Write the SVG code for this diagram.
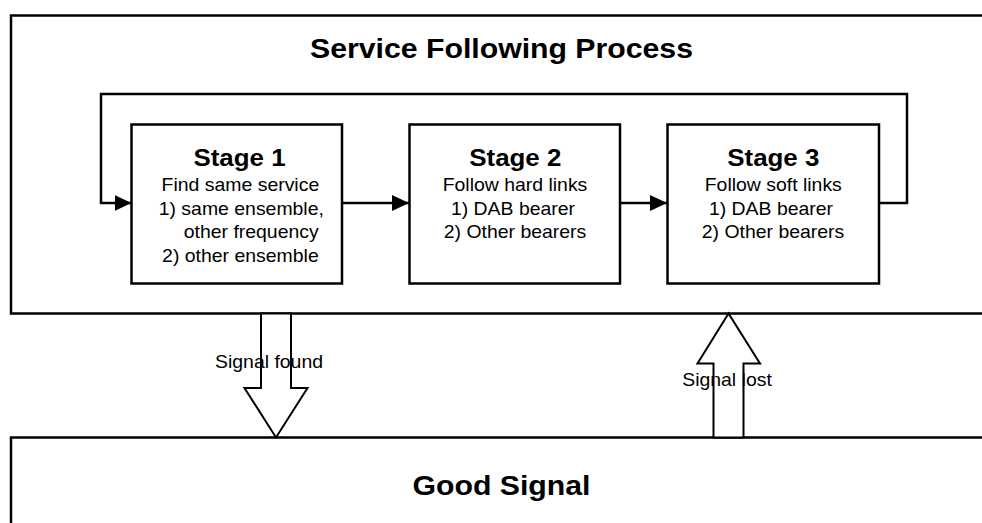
<svg xmlns="http://www.w3.org/2000/svg" width="982" height="523" viewBox="0 0 982 523">
<defs>
<style>
.box{fill:#fff;stroke:#000;stroke-width:2.5}
.arr{fill:#fff;stroke:#000;stroke-width:2}
.ln{fill:none;stroke:#000;stroke-width:2.5}
.t{font-family:"Liberation Sans",Arial,Helvetica,sans-serif;text-anchor:middle;fill:#000}
.h{font-weight:bold;font-size:28px}
.s{font-weight:bold;font-size:24px}
.b{font-size:18px}
</style>
<marker id="ah" markerUnits="userSpaceOnUse" markerWidth="18" markerHeight="17" refX="17" refY="8.5" orient="auto">
<path d="M0,0.5 L17,8.5 L0,16.5 Z" fill="#000"/>
</marker>
</defs>
<rect width="982" height="523" fill="#fff"/>
<g id="process">
<rect class="box" x="11" y="15.5" width="985" height="298"/>
<text class="t h" transform="translate(501.5 58.3) scale(1.08 1)">Service Following Process</text>
</g>
<g id="good-signal">
<rect class="box" x="11" y="437.5" width="985" height="100"/>
<text class="t h" transform="translate(501.5 495) scale(1.08 1)">Good Signal</text>
</g>
<g id="connectors">
<path class="ln" d="M342,203 L409,203" marker-end="url(#ah)"/>
<path class="ln" d="M620,203 L667,203" marker-end="url(#ah)"/>
<path class="ln" d="M879,203 L907,203 L907,94 L101,94 L101,203 L131.5,203" marker-end="url(#ah)"/>
</g>
<g id="stage1">
<rect class="box" x="131.5" y="124.5" width="210.5" height="159"/>
<text class="t s" transform="translate(239.5 165.7) scale(1.08 1)">Stage 1</text>
<text class="t b" transform="translate(240.4 191) scale(1.08 1)">Find same service</text>
<text class="t b" transform="translate(241.3 214.5) scale(1.08 1)">1) same ensemble,</text>
<text class="t b" transform="translate(251.2 238) scale(1.08 1)">other frequency</text>
<text class="t b" transform="translate(240.4 261.5) scale(1.08 1)">2) other ensemble</text>
</g>
<g id="stage2">
<rect class="box" x="409.5" y="124.5" width="210.5" height="159"/>
<text class="t s" transform="translate(515.3 165.7) scale(1.08 1)">Stage 2</text>
<text class="t b" transform="translate(515 191) scale(1.08 1)">Follow hard links</text>
<text class="t b" transform="translate(513 214.5) scale(1.08 1)">1) DAB bearer</text>
<text class="t b" transform="translate(515 238) scale(1.08 1)">2) Other bearers</text>
</g>
<g id="stage3">
<rect class="box" x="667.5" y="124.5" width="211.5" height="159"/>
<text class="t s" transform="translate(773.3 165.7) scale(1.08 1)">Stage 3</text>
<text class="t b" transform="translate(773.3 191) scale(1.08 1)">Follow soft links</text>
<text class="t b" transform="translate(771 214.5) scale(1.08 1)">1) DAB bearer</text>
<text class="t b" transform="translate(773 238) scale(1.08 1)">2) Other bearers</text>
</g>
<g id="signal-found">
<polygon class="arr" points="261,313.5 261,388 244.5,388 276,437.5 307.5,388 291,388 291,313.5"/>
<text class="t b" transform="translate(269 368.3) scale(1.08 1)">Signal found</text>
</g>
<g id="signal-lost">
<polygon class="arr" points="728.5,313.5 697.5,363.5 713.5,363.5 713.5,437.5 743.5,437.5 743.5,363.5 760,363.5"/>
<text class="t b" transform="translate(727 386) scale(1.08 1)">Signal lost</text>
</g>
</svg>
